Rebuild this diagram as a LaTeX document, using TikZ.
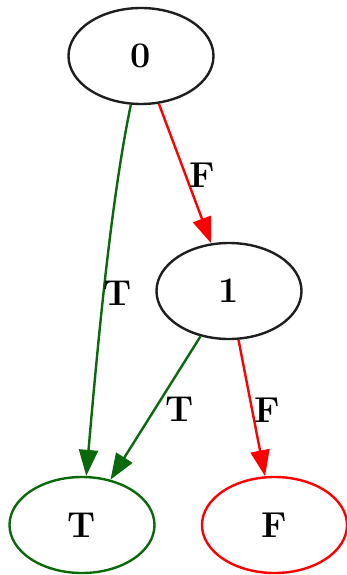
\documentclass[tikz,border=0pt]{standalone}
\usepackage{fontspec}
\setmainfont{Latin Modern Roman}
\usetikzlibrary{shapes.geometric,arrows.meta}
\definecolor{dgreen}{RGB}{10,105,10}
\definecolor{dark}{RGB}{30,30,30}
\begin{document}
\begin{tikzpicture}[x=1pt,y=-1pt,
  every node/.style={font=\fontsize{36}{40}\selectfont\bfseries},
  vert/.style={ellipse,draw=dark,line width=2.4pt,minimum width=145pt,minimum height=96pt,inner sep=0pt},
  edge/.style={line width=2.4pt,-{Triangle[length=26pt,width=19pt]}},
  lbl/.style={inner sep=0pt}]
\useasboundingbox (0,0) rectangle (347,575);
\node[vert] (n0) at (141,56) {0};
\node[vert] (n1) at (229,291) {1};
\node[vert,draw=dgreen] (t) at (82,525) {T};
\node[vert,draw=red] (f) at (274.5,525) {F};
\draw[edge,dgreen] (n0) .. controls (111,200) and (98,341) .. (t);
\draw[edge,red] (n0) -- (n1);
\draw[edge,dgreen] (n1) -- (t);
\draw[edge,red] (n1) -- (f);
\node[lbl] (l1) at (202,175) {F};
\node[lbl] (l2) at (118,293) {T};
\node[lbl] (l3) at (180,409) {T};
\node[lbl] (l4) at (267,410) {F};
\end{tikzpicture}
\end{document}
